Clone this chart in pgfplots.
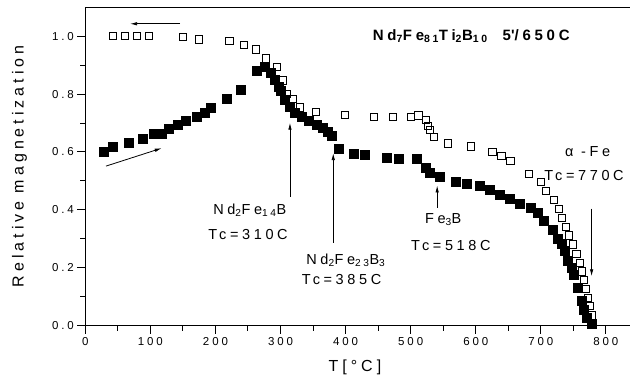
\documentclass[border=0pt]{standalone}
\usepackage{fontspec}
\setmainfont{Liberation Sans}
\newfontfamily\spfont[LetterSpace=25]{Liberation Sans}
\usepackage{pgfplots}
\pgfplotsset{compat=1.18}
\usetikzlibrary{arrows.meta,calc}
\newcommand\tickf{\spfont\fontsize{11.5bp}{13bp}\selectfont}
\newcommand\annf{\spfont\fontsize{14.5bp}{16bp}\selectfont}
\newcommand\labf{\spfont\fontsize{16bp}{18bp}\selectfont}
\newcommand\titf{\spfont\bfseries\fontsize{15bp}{17bp}\selectfont}
\pgfplotstableread{
T M
29 0.602
42 0.619
67 0.632
88 0.647
105.5 0.663
118 0.663
129 0.681
142 0.694
155 0.709
171 0.723
183 0.737
193 0.752
217 0.784
239 0.816
263 0.879
275 0.894
285 0.873
291 0.850
296.5 0.827
300 0.810
307 0.781
314.5 0.756
322 0.735
332 0.721
344 0.709
356 0.695
365 0.683
372 0.671
378.5 0.655
390 0.612
413 0.595
430 0.589
463 0.579
481.5 0.576
510 0.576
523.5 0.545
530 0.529
544.5 0.514
569.5 0.498
585.5 0.491
606 0.484
621 0.468
637 0.453
651.5 0.438
668 0.422
684 0.407
694.5 0.391
705 0.361
718.5 0.330
726.7 0.299
731.8 0.282
737 0.257
741 0.225
747 0.198
751 0.176
757.4 0.130
763 0.084
765.5 0.054
769.8 0.028
778 0.007
}\heating
\pgfplotstableread{
T M
43 1.000
61 1.000
79 1.000
98.3 1.000
150.5 0.998
174.7 0.989
221.5 0.984
244 0.970
261.7 0.954
277.6 0.923
294.5 0.894
303 0.847
309.5 0.800
319 0.784
329.5 0.754
354.5 0.737
399.5 0.728
443 0.721
472.5 0.721
501 0.720
512 0.726
524 0.710
526 0.691
529.5 0.676
536 0.653
557.6 0.629
593 0.619
625.5 0.601
639.6 0.585
653.2 0.569
682 0.524
700 0.495
707.7 0.464
720 0.433
727.6 0.403
732.7 0.372
738 0.341
743.5 0.311
749.6 0.280
754.8 0.248
760 0.217
763 0.187
766 0.157
769.6 0.127
772 0.096
775.8 0.067
778 0.035
}\cooling
\begin{document}
\begin{tikzpicture}
\begin{axis}[
  scale only axis, width=544.7bp, height=318.2bp,
  xmin=0, xmax=837, ymin=0, ymax=1.1,
  axis x line*=box, axis y line*=left,
  axis line style={line width=1.3bp, black},
  xtick={0,100,...,800}, minor x tick num=1,
  ytick={0,0.2,0.4,0.6,0.8,1.0}, minor y tick num=1,
  xtick pos=left, ytick pos=left,
  tick align=outside,
  major tick length=8bp, minor tick length=5bp,
  every tick/.style={line width=1bp, black},
  /pgf/number format/assume math mode=true,
  xticklabel style={font=\tickf},
  yticklabel style={font=\tickf, /pgf/number format/.cd, fixed, fixed zerofill, precision=1},
  xlabel={T[°C]},
  ylabel={Relative magnetization},
  xlabel style={font=\labf, at={(axis description cs:0.495,-0.132)}, anchor=center},
  ylabel style={font=\labf, at={(axis description cs:-0.121,0.5)}, anchor=center},
  clip=false,
]
\addplot[only marks, mark=square*, mark size=4.5bp, mark options={fill=black, draw=black, line width=0.5bp}] table[x=T,y=M] {\heating};
\addplot[only marks, mark=square, mark size=3.6bp, mark options={draw=black, fill=white, line width=0.9bp}] table[x=T,y=M] {\cooling};

\node[font=\titf] at (axis cs:593,1.0) {Nd\textsubscript{7}Fe\textsubscript{81}Ti\textsubscript{2}B\textsubscript{10}\quad 5\textquotesingle/650C};

\draw[line width=0.8bp, -{Latex[length=7bp,width=3.5bp]}] (axis cs:145.6,1.043) -- (axis cs:68.8,1.043);
\draw[line width=0.8bp, -{Latex[length=7bp,width=3.5bp]}] (axis cs:31.8,0.551) -- (axis cs:117.4,0.613);
\draw[line width=0.8bp, -{Latex[length=7bp,width=3.5bp]}] (axis cs:314.5,0.445) -- (axis cs:314.5,0.701);
\draw[line width=0.8bp, -{Latex[length=7bp,width=3.5bp]}] (axis cs:381,0.286) -- (axis cs:381,0.596);
\draw[line width=0.8bp, -{Latex[length=7bp,width=3.5bp]}] (axis cs:540.7,0.407) -- (axis cs:540.7,0.484);
\draw[line width=0.8bp, -{Latex[length=7bp,width=3.5bp]}] (axis cs:778,0.404) -- (axis cs:778,0.170);

\node[font=\annf] at (axis cs:252.7,0.399) {Nd\textsubscript{2}Fe\textsubscript{14}B};
\node[font=\annf] at (axis cs:250,0.315) {Tc=310C};
\node[font=\annf] at (axis cs:400.4,0.225) {Nd\textsubscript{2}Fe\textsubscript{23}B\textsubscript{3}};
\node[font=\annf] at (axis cs:393.8,0.159) {Tc=385C};
\node[font=\annf] at (axis cs:550,0.366) {Fe\textsubscript{3}B};
\node[font=\annf] at (axis cs:561.8,0.278) {Tc=518C};
\node[font=\annf] at (axis cs:772,0.602) {α -Fe};
\node[font=\annf, anchor=west, inner sep=0pt] at (axis cs:705,0.518) {Tc=770C};
\end{axis}
\pgfresetboundingbox
\path[use as bounding box] ($(current axis.south west)+(-85.3bp,-57bp)$) rectangle ($(current axis.north east)+(0bp,7.3bp)$);
\end{tikzpicture}
\end{document}
